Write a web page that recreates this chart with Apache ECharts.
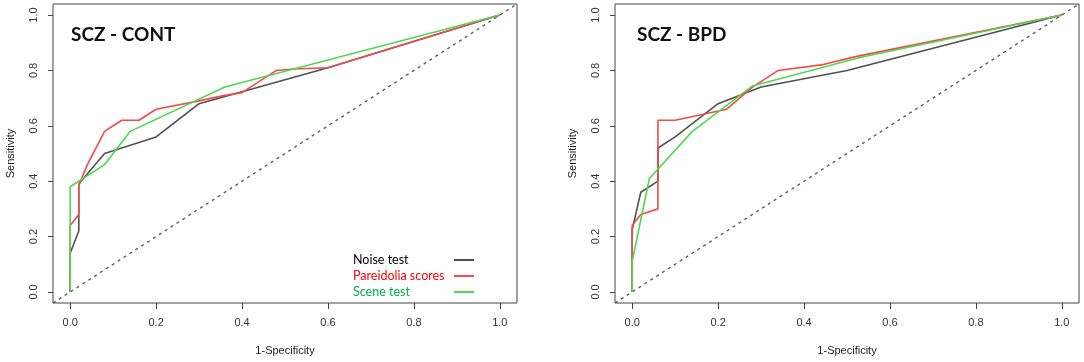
<!DOCTYPE html>
<html lang="en">
<head>
    <meta charset="UTF-8">
    <title>ROC curves</title>
    <script src="https://cdn.jsdelivr.net/npm/echarts@6/dist/echarts.min.js"></script>
    <style>
        html, body { margin: 0; padding: 0; background: #fff; }
    </style>
</head>
<body>
    <div id="main" style="width: 1084px; height: 362px;"></div>
    <script>
        // [1-specificity, sensitivity]
        const contNoise = [[0, 0], [0, 0.14], [0.02, 0.22], [0.02, 0.39], [0.08, 0.50], [0.2, 0.56], [0.3, 0.68], [0.6, 0.81], [1, 1]];
        const contPareidolia = [[0, 0], [0, 0.24], [0.02, 0.28], [0.02, 0.385], [0.04, 0.46], [0.08, 0.58], [0.12, 0.62], [0.16, 0.62], [0.2, 0.66], [0.3, 0.69], [0.36, 0.71], [0.4, 0.72], [0.48, 0.80], [0.52, 0.805], [0.6, 0.81], [1, 1]];
        const contScene = [[0, 0], [0, 0.38], [0.08, 0.46], [0.14, 0.58], [0.36, 0.74], [1, 1]];

        const bpdNoise = [[0, 0], [0, 0.225], [0.02, 0.36], [0.06, 0.40], [0.06, 0.52], [0.1, 0.56], [0.2, 0.68], [0.3, 0.74], [0.5, 0.80], [1, 1]];
        const bpdPareidolia = [[0, 0], [0, 0.24], [0.02, 0.28], [0.06, 0.30], [0.06, 0.62], [0.1, 0.62], [0.22, 0.66], [0.28, 0.74], [0.34, 0.80], [0.44, 0.82], [0.52, 0.85], [1, 1]];
        const bpdScene = [[0, 0], [0, 0.11], [0.04, 0.41], [0.14, 0.58], [0.28, 0.744], [0.53, 0.847], [1, 1]];

        const diagonal = [[-0.04, -0.04], [1.04, 1.04]];
        const ticks = [0, 0.2, 0.4, 0.6, 0.8, 1];
        const panelTitles = ['SCZ - CONT', 'SCZ - BPD'];
        const seriesNames = ['Noise test', 'Pareidolia scores', 'Scene test'];

        const lineColors = ['#505050', '#f24a4a', '#4fd84f'];
        const textColors = ['#000000', '#ff0000', '#00b050'];
        const axisFont = 'Liberation Sans, Arial, sans-serif';

        function makeAxis(idx, isY) {
            return {
                type: 'value',
                gridIndex: idx,
                min: -0.04,
                max: 1.04,
                name: isY ? 'Sensitivity' : '1-Specificity',
                nameLocation: 'middle',
                nameGap: isY ? 37 : 42,
                nameRotate: isY ? 90 : 0,
                nameTextStyle: { color: '#222', fontSize: 11, fontFamily: axisFont },
                axisLine: { show: false, onZero: false },
                axisTick: {
                    show: true, length: isY ? 5 : 6, customValues: ticks,
                    lineStyle: { color: '#444' }
                },
                axisLabel: {
                    customValues: ticks,
                    rotate: isY ? 90 : 0,
                    margin: 14,
                    color: '#333',
                    fontSize: 11,
                    fontFamily: axisFont,
                    formatter: function (v) { return v.toFixed(1); }
                },
                splitLine: { show: false }
            };
        }

        function rocSeries(name, data, idx, color) {
            return {
                name: name,
                type: 'line',
                xAxisIndex: idx,
                yAxisIndex: idx,
                data: data,
                symbol: 'none',
                itemStyle: { color: color },
                lineStyle: { color: color, width: 1.6 },
                z: 3
            };
        }

        function diagSeries(idx) {
            return {
                name: 'diagonal',
                type: 'line',
                xAxisIndex: idx,
                yAxisIndex: idx,
                data: diagonal,
                symbol: 'none',
                clip: true,
                lineStyle: { color: '#555', width: 1.3, type: [3, 4] },
                z: 2
            };
        }

        // legend text: left aligned in a fixed box so the line samples line up
        const legendRich = {};
        textColors.forEach(function (c, i) {
            legendRich['c' + i] = { color: c, width: 96, align: 'left' };
        });

        const titleStyle = { fontFamily: 'Lato, sans-serif', fontWeight: 'bold', fontSize: 19, color: '#111' };

        const myChart = echarts.init(document.getElementById('main'));
        const option = {
            animation: false,
            title: [
                { text: panelTitles[0], left: 71, top: 25, padding: 0, textStyle: titleStyle },
                { text: panelTitles[1], left: 637, top: 25, padding: 0, textStyle: titleStyle }
            ],
            legend: {
                left: 353,
                top: 253,
                orient: 'vertical',
                align: 'right',
                selectedMode: false,
                icon: 'rect',
                itemWidth: 20,
                itemHeight: 2,
                itemGap: 2,
                padding: 0,
                textStyle: {
                    fontFamily: 'Lato, sans-serif',
                    fontSize: 12.5,
                    lineHeight: 14,
                    rich: legendRich
                },
                formatter: function (name) {
                    return '{c' + seriesNames.indexOf(name) + '|' + name + '}';
                },
                data: seriesNames
            },
            grid: [
                { left: 53, top: 4, width: 464, height: 299, show: true, borderColor: '#444', borderWidth: 1 },
                { left: 615, top: 4, width: 464, height: 299, show: true, borderColor: '#444', borderWidth: 1 }
            ],
            xAxis: [makeAxis(0, false), makeAxis(1, false)],
            yAxis: [makeAxis(0, true), makeAxis(1, true)],
            series: [
                diagSeries(0),
                rocSeries(seriesNames[0], contNoise, 0, lineColors[0]),
                rocSeries(seriesNames[1], contPareidolia, 0, lineColors[1]),
                rocSeries(seriesNames[2], contScene, 0, lineColors[2]),
                diagSeries(1),
                rocSeries(seriesNames[0], bpdNoise, 1, lineColors[0]),
                rocSeries(seriesNames[1], bpdPareidolia, 1, lineColors[1]),
                rocSeries(seriesNames[2], bpdScene, 1, lineColors[2])
            ]
        };
        myChart.setOption(option);
    </script>
</body>
</html>
